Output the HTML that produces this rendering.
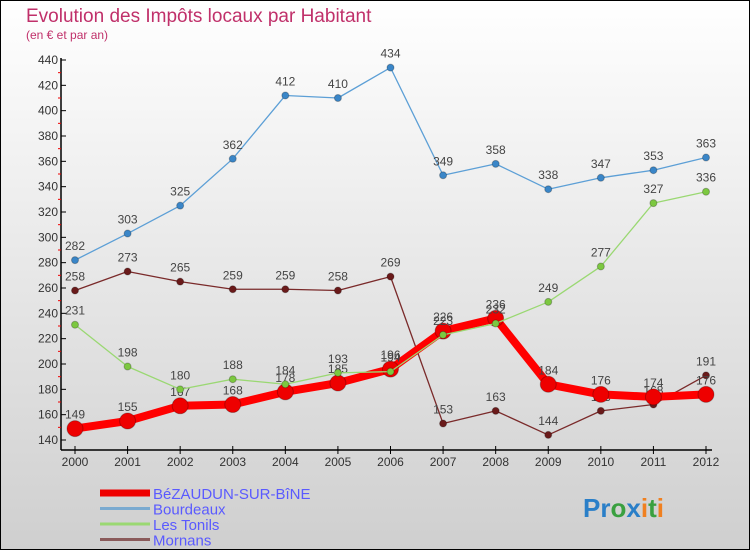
<!DOCTYPE html>
<html><head><meta charset="utf-8"><style>
body{margin:0;}
#wrap{width:750px;height:550px;position:relative;font-family:"Liberation Sans",sans-serif;}
</style></head><body>
<div id="wrap">
<svg id="svg" width="750" height="550" xmlns="http://www.w3.org/2000/svg">
<defs><linearGradient id="bg" x1="0" y1="0" x2="0" y2="1"><stop offset="0" stop-color="#ffffff"/><stop offset="1" stop-color="#cfcfcf"/></linearGradient></defs>
<rect x="0.5" y="0.5" width="749" height="549" fill="url(#bg)" stroke="#000"/>
<text x="26" y="22" font-size="19" fill="#c0306a">Evolution des Impôts locaux par Habitant</text>
<text x="26" y="39" font-size="12" fill="#c0306a">(en € et par an)</text>
<g id="axes"></g><g id="series"></g><g id="legend"></g>
<text x="583" y="517" font-size="26" font-weight="bold"><tspan fill="#2a7fc8">Pr</tspan><tspan fill="#3aa040">o</tspan><tspan fill="#2a7fc8">x</tspan><tspan fill="#f08020">i</tspan><tspan fill="#3aa040">t</tspan><tspan fill="#f08020">i</tspan></text>
</svg></div>
<script>
const years=[2000,2001,2002,2003,2004,2005,2006,2007,2008,2009,2010,2011,2012];
const bezaudun=[149,155,167,168,178,185,196,226,236,184,176,174,176];
const bourdeaux=[282,303,325,362,412,410,434,349,358,338,347,353,363];
const tonils=[231,198,180,188,184,193,194,223,232,249,277,327,336];
const mornans=[258,273,265,259,259,258,269,153,163,144,163,168,191];
const yTicks=[140,160,180,200,220,240,260,280,300,320,340,360,380,400,420,440];
const NS="http://www.w3.org/2000/svg";
const X=i=>75+i*(706-75)/12;
const Y=v=>440-(v-140)*380/300;
function mk(t,a,p){const e=document.createElementNS(NS,t);for(const k in a)e.setAttribute(k,a[k]);p.appendChild(e);return e;}
const ax=document.getElementById('axes');
let l=mk('line',{x1:61,y1:58,x2:61,y2:450,stroke:'#000','stroke-width':1.5},ax);


l=mk('line',{x1:61,y1:450,x2:712,y2:450,stroke:'#000','stroke-width':1.5},ax);


yTicks.forEach((v,i)=>{
 mk('line',{x1:61,y1:Y(v),x2:66,y2:Y(v),stroke:'#000'},ax);
 if(i<yTicks.length-1)mk('line',{x1:58,y1:Y(v+10),x2:61,y2:Y(v+10),stroke:'#e00'},ax);
 const t=mk('text',{x:58,y:Y(v)+4,'font-size':12,'text-anchor':'end',fill:'#333'},ax);t.textContent=v;
 
 
});
years.forEach((y,i)=>{
 mk('line',{x1:X(i),y1:446,x2:X(i),y2:454,stroke:'#000'},ax);
 const t=mk('text',{x:X(i),y:466,'font-size':12,'text-anchor':'middle',fill:'#333'},ax);t.textContent=y;
 
 
});
const sg=document.getElementById('series');
function series(d,color,dot,w,r,name){
 const g=mk('g',{},sg);
 
 
 mk('polyline',{points:d.map((v,i)=>X(i)+','+Y(v)).join(' '),fill:'none',stroke:color,'stroke-width':w,'stroke-linejoin':'round'},g);
 d.forEach((v,i)=>{
  const c=mk('circle',{cx:X(i),cy:Y(v),r:r,fill:dot,stroke:'rgba(0,0,0,0.25)','stroke-width':1},g);
  
  
  const t=mk('text',{x:X(i),y:Y(v)-10,'font-size':12,'text-anchor':'middle',fill:'#444'},g);t.textContent=v;
  
  
 });
}
series(bourdeaux,'#5c9fd6','#3a86c8',1.3,3.5,'series-bourdeaux');
series(mornans,'#7a2a2a','#6a1a1a',1.3,3.5,'series-mornans');
series(bezaudun,'#ff0000','#ee0000',8,8,'series-bezaudun');
series(tonils,'#9ad872','#7cc840',1.3,3.5,'series-les-tonils');
const lg=document.getElementById('legend');
[['BéZAUDUN-SUR-BîNE','#ee0000',7],['Bourdeaux','#7aaad0',3],['Les Tonils','#9ad872',3],['Mornans','#8a5a5a',3]].forEach((e,i)=>{
 const y=493+i*15.5;
 const g=mk('g',{},lg);
 
 
 mk('line',{x1:100,y1:y,x2:150,y2:y,stroke:e[1],'stroke-width':e[2]},g);
 const t=mk('text',{x:153,y:y+6,'font-size':15,fill:'#5a5aff'},g);t.textContent=e[0];
});
</script>
</body></html>
